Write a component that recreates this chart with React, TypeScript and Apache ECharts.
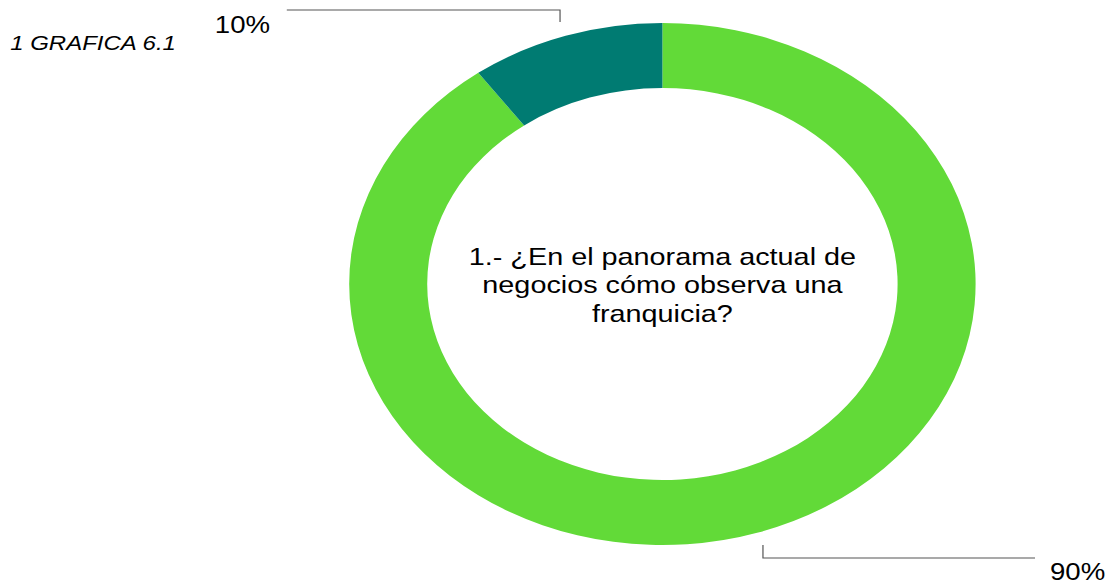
import React, { useEffect, useRef } from "react";
import * as echarts from "echarts";

const categories = ["Favorable", "Desfavorable"];
const values = [90, 10];
const colors = ["#62DA38", "#007B72"];
const questionLines = [
  "1.- ¿En el panorama actual de",
  "negocios cómo observa una",
  "franquicia?",
];
const figureTitle = "1 GRAFICA 6.1";

const STRETCH = 1.2;

export default function App() {
  const ref = useRef<HTMLDivElement>(null);
  useEffect(() => {
    if (!ref.current) return;
    const chart = echarts.init(ref.current, null, { renderer: "svg" });
    const labelFont = { fontFamily: "Liberation Sans, Arial, sans-serif", fontSize: 23, color: "#000" };
    chart.setOption({
      animation: false,
      backgroundColor: "transparent",
      graphic: [
        {
          type: "text",
          x: 8.5,
          y: 43,
          style: {
            text: figureTitle,
            font: "italic 20px 'Liberation Sans', Arial, sans-serif",
            fill: "#000",
            align: "left",
            verticalAlign: "middle",
          },
        },
        {
          type: "text",
          x: 552,
          y: 285,
          style: {
            text: questionLines.join("\n"),
            font: "24px 'Liberation Sans', Arial, sans-serif",
            fill: "#000",
            align: "center",
            verticalAlign: "middle",
            lineHeight: 28.5,
          },
        },
      ],
      series: [
        {
          type: "pie",
          center: [552, 284],
          radius: [196, 261],
          startAngle: 90,
          clockwise: true,
          silent: true,
          data: categories.map((c, i) => ({
            name: c,
            value: values[i],
            itemStyle: { color: colors[i] },
          })),
          label: {
            show: true,
            position: "outside",
            formatter: "{d}%",
            ...labelFont,
          },
          labelLine: {
            show: true,
            lineStyle: { color: "#555", width: 1 },
          },
          labelLayout: (p: any) => {
            if (p.dataIndex === 1) {
              return {
                x: 179,
                y: 24.5,
                align: "left",
                verticalAlign: "middle",
                labelLinePoints: [
                  [466.7, 22],
                  [466.7, 10],
                  [239, 10],
                ],
              };
            }
            return {
              x: 875,
              y: 572,
              align: "left",
              verticalAlign: "middle",
              labelLinePoints: [
                [635.8, 545],
                [635.8, 558],
                [862.5, 558],
              ],
            };
          },
        },
      ],
    });
    return () => chart.dispose();
  }, []);
  return (
    <div
      style={{
        position: "fixed",
        left: 0,
        top: 0,
        width: 1111,
        height: 585,
        overflow: "hidden",
        background: "#fff",
      }}
    >
      <div
        ref={ref}
        style={{
          position: "absolute",
          left: 0,
          top: 0,
          width: 1111 / STRETCH,
          height: 585,
          transform: `scaleX(${STRETCH})`,
          transformOrigin: "0 0",
        }}
      />
    </div>
  );
}
